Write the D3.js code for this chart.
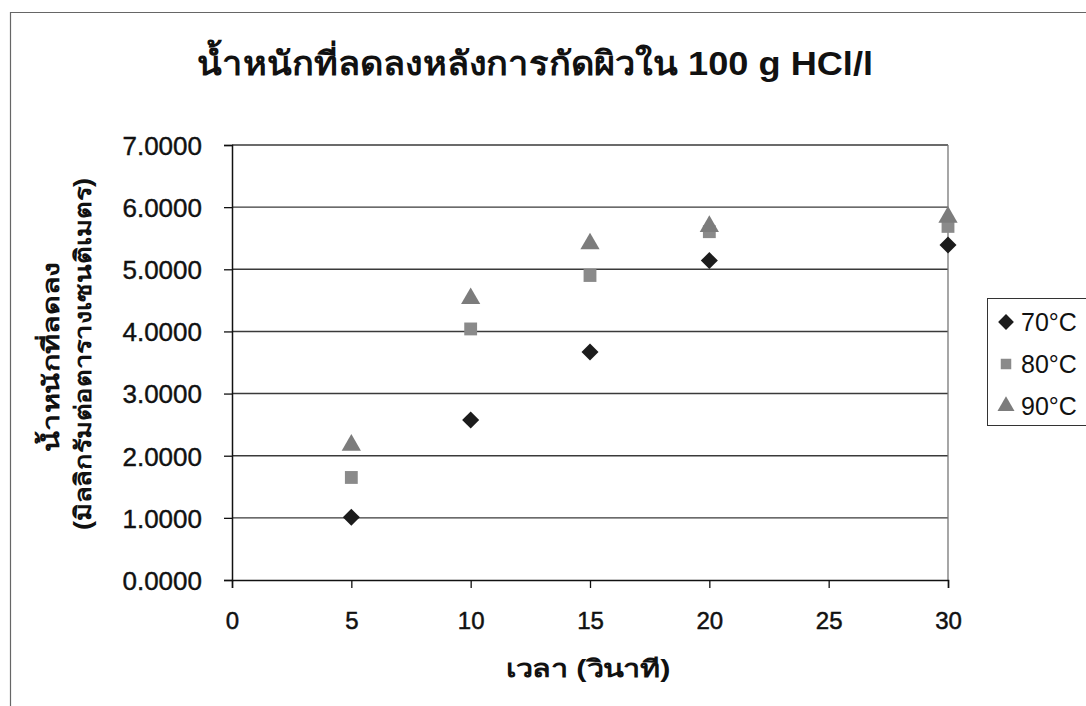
<!DOCTYPE html>
<html><head><meta charset="utf-8">
<script src="https://cdn.jsdelivr.net/npm/d3@7/dist/d3.min.js"></script>
<style>body{margin:0;background:#fff}svg{display:block}text{font-family:"Liberation Sans",Arial,sans-serif;fill:#111}</style>
</head><body><svg id="c" width="1086" height="706"></svg>
<script>
const xValues = [5, 10, 15, 20, 30];
const seriesNames = ["70°C", "80°C", "90°C"];
const s70 = [1.01, 2.575, 3.67, 5.14, 5.39];
const s80 = [1.65, 4.04, 4.90, 5.605, 5.69];
const s90 = [2.17, 4.53, 5.41, 5.69, 5.84];
const xTicks = [0, 5, 10, 15, 20, 25, 30];
const yTicks = [0, 1, 2, 3, 4, 5, 6, 7];
const title = "น้ำหนักที่ลดลงหลังการกัดผิวใน 100 g HCl/l";
const yTitle = ["น้ำหนักที่ลดลง", "(มิลลิกรัมต่อตารางเซนติเมตร)"];
const xTitle = "เวลา (วินาที)";

const svg = d3.select("#c");
const L = 232, R = 948, T = 145, B = 580;
const x = d3.scaleLinear().domain([0, 30]).range([L, R]);
const y = d3.scaleLinear().domain([0, 7]).range([B, T]);

// outer chart border
svg.append("path").attr("d", "M10.5,706 V12.5 H1086").attr("fill", "none").attr("stroke", "#666").attr("stroke-width", 1.2);

// grid
svg.append("g").selectAll("line").data(yTicks.filter(d => d > 0)).join("line")
  .attr("x1", L).attr("x2", R).attr("y1", d => y(d)).attr("y2", d => y(d))
  .attr("stroke", "#3a3a3a").attr("stroke-width", 1.4);
svg.append("line").attr("x1", R).attr("x2", R).attr("y1", T).attr("y2", B).attr("stroke", "#777").attr("stroke-width", 1.3);

// axes
const yAxis = d3.axisLeft(y).tickValues(yTicks).tickSize(8).tickFormat(d3.format(".4f"));
const gy = svg.append("g").attr("transform", `translate(${L},0)`).call(yAxis);
gy.select(".domain").attr("stroke", "#111").attr("stroke-width", 1.5);
gy.selectAll(".tick line").attr("stroke", "#111").attr("stroke-width", 1.3);
gy.selectAll(".tick text").attr("x", -30).attr("dy", "0.36em").style("font-size", "26px")
  .attr("fill", "#111").attr("stroke", "#111").attr("stroke-width", 0.4);

const xAxis = d3.axisBottom(x).tickValues(xTicks).tickSize(8).tickFormat(d3.format("d"));
const gx = svg.append("g").attr("transform", `translate(0,${B})`).call(xAxis);
gx.select(".domain").attr("stroke", "#111").attr("stroke-width", 1.5);
gx.selectAll(".tick line").attr("stroke", "#111").attr("stroke-width", 1.3);
gx.selectAll(".tick text").attr("y", 49).attr("dy", 0).style("font-size", "24px")
  .attr("fill", "#111").attr("stroke", "#111").attr("stroke-width", 0.5);

// marks
const sym = [d3.symbolSquare, d3.symbolSquare, d3.symbolTriangle];
const rot = ["rotate(45)", "", ""];
const cols = ["#1c1c1c", "#8a8a8a", "#7c7c7c"];
const sizes = [145, 165, 160];
const data = [s70, s80, s90];
data.forEach((s, i) => {
  svg.append("g").selectAll("path").data(s.map((v, j) => [xValues[j], v])).join("path")
    .attr("transform", d => `translate(${x(d[0])},${y(d[1])}) ${rot[i]}`)
    .attr("d", d3.symbol().type(sym[i]).size(sizes[i]))
    .attr("fill", cols[i]);
});

// title
svg.append("text").attr("x", 535).attr("y", 75).attr("text-anchor", "middle")
  .attr("textLength", 676).attr("lengthAdjust", "spacingAndGlyphs")
  .style("font-size", "33px").style("font-weight", "bold").text(title);

// y title
svg.append("text").attr("transform", "translate(59,357) rotate(-90)").attr("text-anchor", "middle")
  .attr("textLength", 190).attr("lengthAdjust", "spacingAndGlyphs")
  .style("font-size", "23px").style("font-weight", "bold").text(yTitle[0]);
svg.append("text").attr("transform", "translate(91,354) rotate(-90)").attr("text-anchor", "middle")
  .attr("textLength", 352).attr("lengthAdjust", "spacingAndGlyphs")
  .style("font-size", "23px").style("font-weight", "bold").text(yTitle[1]);

// x title
svg.append("text").attr("x", 588).attr("y", 677).attr("text-anchor", "middle")
  .attr("textLength", 165).attr("lengthAdjust", "spacingAndGlyphs")
  .style("font-size", "24px").style("font-weight", "bold").text(xTitle);

// legend
const lg = svg.append("g");
lg.append("rect").attr("x", 987.5).attr("y", 298.5).attr("width", 110).attr("height", 127)
  .attr("fill", "#fff").attr("stroke", "#333").attr("stroke-width", 1);
seriesNames.forEach((n, i) => {
  const cy = 322 + i * 42;
  lg.append("path").attr("transform", `translate(1006,${cy}) ${rot[i]}`)
    .attr("d", d3.symbol().type(sym[i]).size(i === 1 ? 110 : 125)).attr("fill", cols[i]);
  lg.append("text").attr("x", 1021).attr("y", cy + 9).style("font-size", "25px").text(n);
});
</script></body></html>
